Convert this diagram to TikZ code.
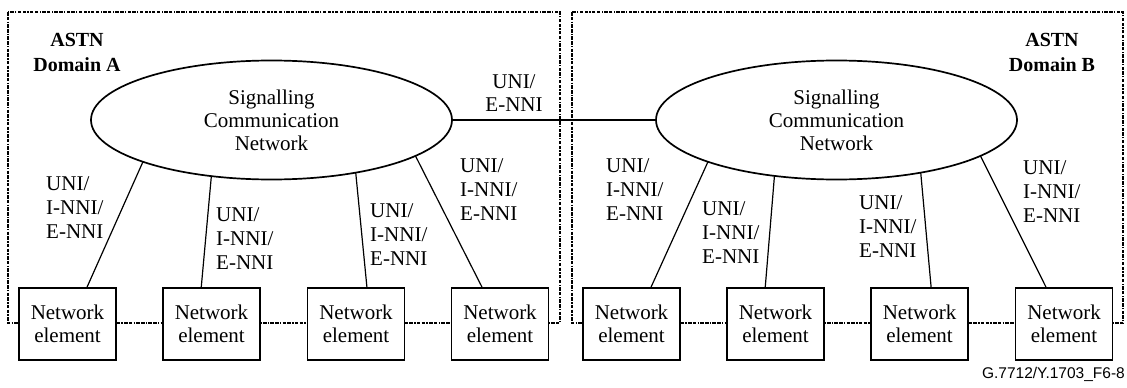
\documentclass[tikz,border=0pt]{standalone}
\usepackage{fontspec}
\setmainfont{Liberation Serif}
\newfontfamily\codefont{Liberation Sans}
\usetikzlibrary{shapes.geometric}

\tikzset{
  domainbox/.style={draw, line width=1.6pt,
    dash pattern=on 3.5pt off 1.3pt on 3.5pt off 1.3pt on 1.3pt off 1.3pt},
  scn/.style={draw, ellipse, line width=1.7pt, fill=white, inner sep=0pt,
    outer sep=0pt, minimum width=361pt, minimum height=119pt, align=center,
    font=\fontsize{21}{23}\selectfont},
  nebox/.style={draw, line width=1.5pt, fill=white, inner sep=0pt, outer sep=0pt,
    minimum width=97pt, minimum height=72pt, align=center,
    font=\fontsize{21}{23}\selectfont},
  iflabel/.style={anchor=west, align=left, inner sep=0pt,
    font=\fontsize{21}{24}\selectfont},
  domlabel/.style={align=center, inner sep=0pt,
    font=\fontsize{20}{25}\selectfont\bfseries},
  link/.style={line width=1.2pt},
  trunk/.style={line width=2.6pt}
}

\begin{document}
\begin{tikzpicture}[x=1pt, y=-1pt]
\useasboundingbox (0,0) rectangle (1127,388);

% ASTN domains
\draw[domainbox] (8,12) rectangle (560,323);
\draw[domainbox] (572,12) rectangle (1123,323);
\node[domlabel] (domA) at (77,52) {ASTN\\Domain A};
\node[domlabel] (domB) at (1052,52) {ASTN\\Domain B};

% Signalling communication networks
\node[scn] (scnA) at (271.5,120) {Signalling\\Communication\\Network};
\node[scn] (scnB) at (836.5,120) {Signalling\\Communication\\Network};
\draw[trunk] (scnA.east) -- (scnB.west);
\node[align=center, inner sep=0pt, font=\fontsize{21}{23}\selectfont] (ext) at (514,93.5) {UNI/\\E-NNI};

% Network elements
\foreach \n/\x in {1/67.5, 2/211.5, 3/356, 4/500, 5/631.5, 6/775.5, 7/919.5, 8/1064}
  \node[nebox] (ne\n) at (\x,324) {Network\\element};

% Links from the network elements to the SCNs
\draw[link] (ne1.62.8)  -- (scnA.198.5);
\draw[link] (ne2.106.3) -- (scnA.223.3);
\draw[link] (ne3.73)    -- (scnA.328.5);
\draw[link] (ne4.116.6) -- (scnA.346.8);
\draw[link] (ne5.62.8)  -- (scnB.198.4);
\draw[link] (ne6.106.3) -- (scnB.222.8);
\draw[link] (ne7.72.3)  -- (scnB.328.2);
\draw[link] (ne8.116.6) -- (scnB.346.7);

% Interface labels
\foreach \n/\x/\y in {1/46/208, 2/216/239, 3/370/235, 4/460/190,
                      5/606/190, 6/702/233, 7/859/227, 8/1023/192}
  \node[iflabel] (if\n) at (\x,\y) {UNI/\\I-NNI/\\E-NNI};

% Figure code
\node[anchor=east, inner sep=0pt, font=\codefont\fontsize{15.5}{18}\selectfont] (code) at (1125,374) {G.7712/Y.1703\_F6-8};
\end{tikzpicture}
\end{document}
